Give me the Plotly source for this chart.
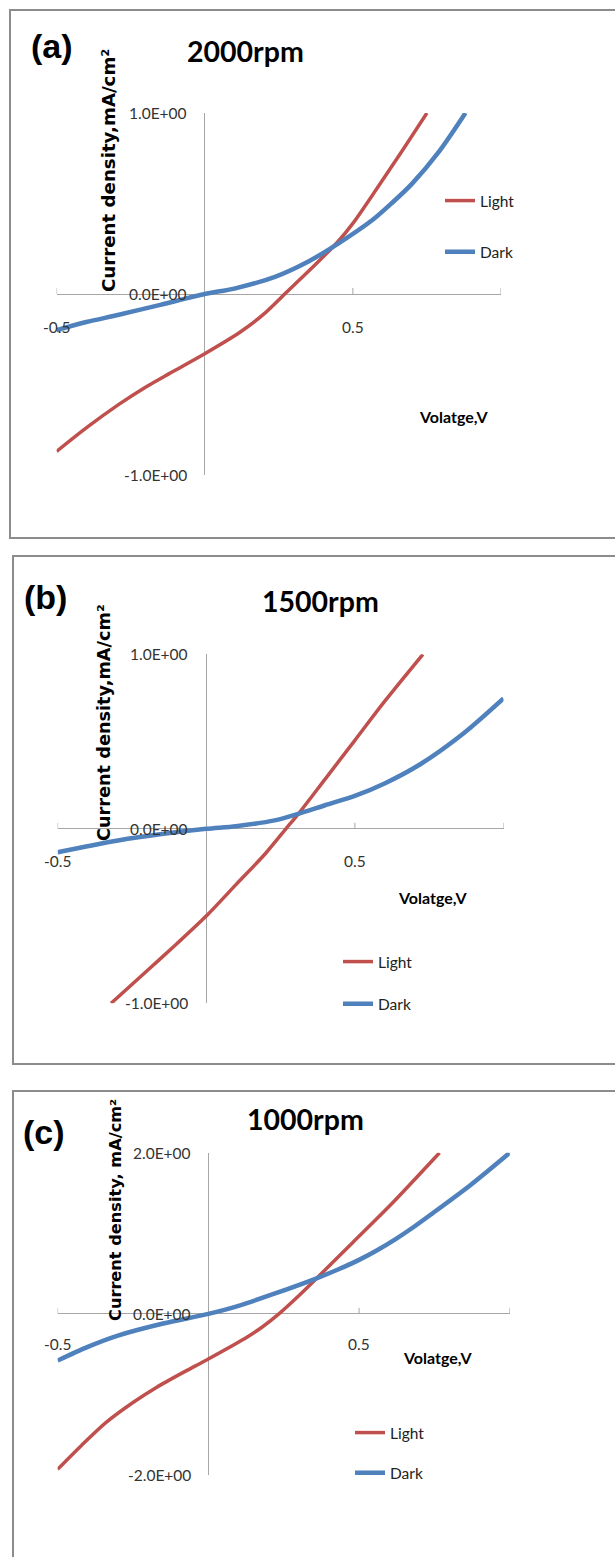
import plotly.graph_objects as go

W, H = 615, 1557

# ---------------- data ----------------
# (a) 2000 rpm
a_light_v = [-0.5, -0.4, -0.29, -0.2, -0.12, 0.0, 0.12, 0.2, 0.27, 0.35, 0.45, 0.5, 0.58, 0.67, 0.75]
a_light_j = [-0.87, -0.74, -0.61, -0.515, -0.44, -0.33, -0.21, -0.11, 0.0, 0.125, 0.29, 0.39, 0.58, 0.8, 1.0]
a_dark_v = [-0.5, -0.4, -0.29, -0.15, 0.0, 0.1, 0.237, 0.35, 0.449, 0.567, 0.63, 0.7, 0.79, 0.88]
a_dark_j = [-0.2, -0.155, -0.115, -0.06, 0.0, 0.03, 0.095, 0.18, 0.277, 0.41, 0.50, 0.61, 0.785, 1.0]

# (b) 1500 rpm
b_light_v = [-0.32, -0.2, -0.1, 0.0, 0.1, 0.2, 0.268, 0.31, 0.4, 0.5, 0.6, 0.729]
b_light_j = [-1.0, -0.815, -0.66, -0.5, -0.32, -0.14, 0.0, 0.086, 0.285, 0.507, 0.73, 1.0]
b_dark_v = [-0.5, -0.4, -0.297, -0.15, 0.0, 0.1, 0.23, 0.31, 0.4, 0.502, 0.6, 0.72, 0.865, 1.0]
b_dark_j = [-0.134, -0.1, -0.067, -0.03, 0.0, 0.015, 0.048, 0.086, 0.135, 0.19, 0.26, 0.37, 0.546, 0.747]

# (c) 1000 rpm
c_light_v = [-0.5, -0.42, -0.34, -0.25, -0.171, -0.08, 0.0, 0.128, 0.18, 0.234, 0.3, 0.355, 0.48, 0.609, 0.767]
c_light_j = [-1.93, -1.63, -1.35, -1.1, -0.91, -0.72, -0.56, -0.29, -0.16, 0.0, 0.225, 0.425, 0.89, 1.37, 2.0]
c_dark_v = [-0.5, -0.4, -0.3, -0.15, 0.0, 0.1, 0.219, 0.355, 0.43, 0.5, 0.56, 0.62, 0.68, 0.739, 0.87, 1.0]
c_dark_j = [-0.58, -0.41, -0.27, -0.12, 0.0, 0.1, 0.25, 0.435, 0.55, 0.67, 0.79, 0.925, 1.075, 1.235, 1.6, 2.0]

panel_titles = ["2000rpm", "1500rpm", "1000rpm"]
panel_tags = ["(a)", "(b)", "(c)"]
y_titles = ["Current density,mA/cm²", "Current density,mA/cm²", "Current density, mA/cm²"]
x_title = "Volatge,V"
x_tick_vals = [-0.5, 0.5]
x_tick_text = ["-0.5", "0.5"]
x_tick_marks = [-0.5, 0.5, 1.0]
y_tick_vals = [[1.0, 0.0, -1.0], [1.0, 0.0, -1.0], [2.0, 0.0, -2.0]]
y_tick_text = [["1.0E+00", "0.0E+00", "-1.0E+00"],
               ["1.0E+00", "0.0E+00", "-1.0E+00"],
               ["2.0E+00", "0.0E+00", "-2.0E+00"]]
y_ranges = [[-1, 1], [-1, 1], [-2, 2]]
x_range = [-0.5, 1.0]
series_names = ["Light", "Dark"]

RED = "#C0504D"
BLUE = "#4F81BD"
NARROW = "Lato, Liberation Sans Narrow, sans-serif"
WIDE_BOLD = "DejaVu Sans, Verdana, sans-serif"

def px(x, y):
    return x / W, 1 - y / H

# ---------------- layout geometry (pixels) ----------------
plot_px = [  # x_left, x_right, y_top, y_bottom
    (56.6, 501.0, 113.0, 475.0),
    (57.6, 503.5, 654.3, 1003.3),
    (57.6, 509.8, 1152.7, 1475.0),
]
boxes = [(10, 10, 900, 538), (13, 556, 900, 1064), (13, 1091, 900, 1800)]
tag_pos = [(52, 46), (45, 597), (44, 1132)]
title_pos = [(245, 51), (320, 601), (305, 1119)]
ytitle_pos = [(108, 171), (104, 723), (115, 1210)]
ytitle_size = [18.2, 17.7, 16.2]
xtitle_pos = [(454, 416), (432, 897), (437, 1357)]
legend_pos = [(440, 184), (338, 945), (350, 1416)]
legend_gap = [28, 19, 17]
xlab_shift = [-33, -32, -30]
ylab_shift = [-16, -16, -15]

data = [
    (a_light_v, a_light_j, a_dark_v, a_dark_j),
    (b_light_v, b_light_j, b_dark_v, b_dark_j),
    (c_light_v, c_light_j, c_dark_v, c_dark_j),
]

fig = go.Figure()
annotations = []
shapes = []
layout = {}

for i in range(3):
    sfx = "" if i == 0 else str(i + 1)
    xa, ya = "x" + sfx, "y" + sfx
    leg = "legend" + sfx
    lv, lj, dv, dj = data[i]
    fig.add_trace(go.Scatter(x=lv, y=lj, mode="lines", name=series_names[0],
                             line=dict(color=RED, width=3.5, shape="spline", smoothing=0.8),
                             xaxis=xa, yaxis=ya, legend=leg, legendgroup=f"l{i}"))
    fig.add_trace(go.Scatter(x=dv, y=dj, mode="lines", name=series_names[1],
                             line=dict(color=BLUE, width=4.5, shape="spline", smoothing=0.8),
                             xaxis=xa, yaxis=ya, legend=leg, legendgroup=f"d{i}"))

    xl, xr, yt, yb = plot_px[i]
    layout["xaxis" + sfx] = dict(domain=[xl / W, xr / W], range=x_range, anchor=ya,
                                 showgrid=False, showticklabels=False, showline=False,
                                 zeroline=True, zerolinecolor="#A6A6A6", zerolinewidth=1,
                                 ticks="", fixedrange=True)
    layout["yaxis" + sfx] = dict(domain=[1 - yb / H, 1 - yt / H], range=y_ranges[i], anchor=xa,
                                 showgrid=False, showticklabels=False, showline=False,
                                 zeroline=True, zerolinecolor="#A6A6A6", zerolinewidth=1,
                                 ticks="", fixedrange=True)
    lx, ly = px(*legend_pos[i])
    layout[leg] = dict(x=lx, y=ly, xanchor="left", yanchor="top", bgcolor="rgba(0,0,0,0)",
                       borderwidth=0, tracegroupgap=legend_gap[i],
                       font=dict(family=NARROW, size=15.5, color="#222"))

    # x-axis tick marks (pointing up from the zero line)
    for tv in x_tick_marks:
        shapes.append(dict(type="line", xref=xa, yref=ya, x0=tv, x1=tv,
                           ysizemode="pixel", yanchor=0, y0=0, y1=6,
                           line=dict(color="#A6A6A6", width=1)))
    # x tick labels
    for tv, tt in zip(x_tick_vals, x_tick_text):
        annotations.append(dict(x=tv, y=0, xref=xa, yref=ya, text=tt, showarrow=False,
                                xanchor="center", yanchor="middle", yshift=xlab_shift[i],
                                font=dict(family=NARROW, size=15.5, color="#333")))
    # y tick labels
    for tv, tt in zip(y_tick_vals[i], y_tick_text[i]):
        annotations.append(dict(x=0, y=tv, xref=xa, yref=ya, text=tt, showarrow=False,
                                xanchor="right", yanchor="middle", xshift=ylab_shift[i],
                                font=dict(family=NARROW, size=15.5, color="#333")))
    # panel box
    bx0, by0, bx1, by1 = boxes[i]
    x0p, y0p = px(bx0, by0)
    x1p, y1p = px(bx1, by1)
    shapes.append(dict(type="rect", xref="paper", yref="paper", x0=x0p, x1=x1p, y0=y1p, y1=y0p,
                       line=dict(color="#8C8C8C", width=2), fillcolor="rgba(0,0,0,0)", layer="below"))
    # texts
    tx, ty = px(*tag_pos[i])
    annotations.append(dict(x=tx, y=ty, xref="paper", yref="paper", text=f"<b>{panel_tags[i]}</b>",
                            showarrow=False, xanchor="center", yanchor="middle",
                            font=dict(family="Liberation Sans, Arial, sans-serif", size=34, color="black")))
    tx, ty = px(*title_pos[i])
    annotations.append(dict(x=tx, y=ty, xref="paper", yref="paper", text=f"<b>{panel_titles[i]}</b>",
                            showarrow=False, xanchor="center", yanchor="middle",
                            font=dict(family=NARROW, size=28.5, color="black")))
    tx, ty = px(*ytitle_pos[i])
    annotations.append(dict(x=tx, y=ty, xref="paper", yref="paper", text=f"<b>{y_titles[i]}</b>",
                            showarrow=False, xanchor="center", yanchor="middle", textangle=-90,
                            font=dict(family=WIDE_BOLD, size=ytitle_size[i], color="black")))
    tx, ty = px(*xtitle_pos[i])
    annotations.append(dict(x=tx, y=ty, xref="paper", yref="paper", text=f"<b>{x_title}</b>",
                            showarrow=False, xanchor="center", yanchor="middle",
                            font=dict(family=NARROW, size=16, color="black")))

fig.update_layout(width=W, height=H, margin=dict(l=0, r=0, t=0, b=0),
                  paper_bgcolor="white", plot_bgcolor="rgba(0,0,0,0)",
                  showlegend=True, annotations=annotations, shapes=shapes, **layout)

fig.write_html("out.html", config={"displayModeBar": False},
               post_script="document.body.style.margin='0';document.body.style.overflow='hidden';")
